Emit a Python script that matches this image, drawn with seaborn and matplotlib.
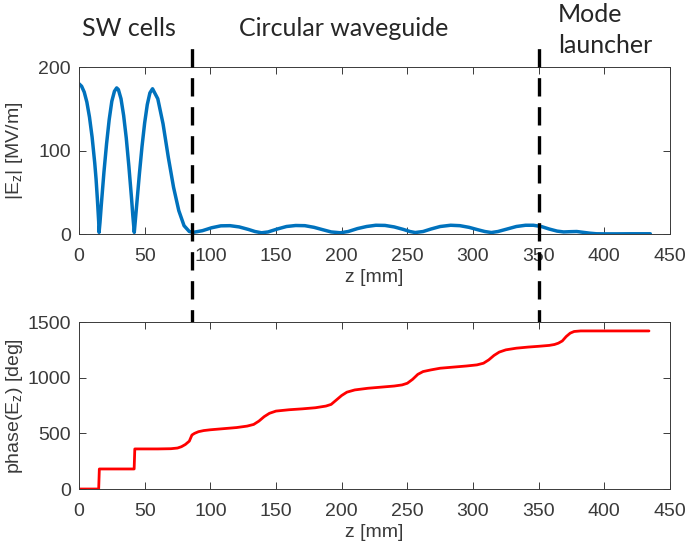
import seaborn as sns
import matplotlib.pyplot as plt

# |Ez| along the structure
z_field = [0, 2, 4, 6, 8, 10, 12, 13, 14, 15, 15.3,
           16, 17, 19, 21, 23, 25, 27, 28.7, 30, 32, 34, 36, 38, 40, 41, 42.1,
           43, 44, 46, 48, 50, 52, 54, 56, 60, 64, 68, 72, 76, 80, 84, 87,
           94, 101, 108, 115, 122, 129, 134, 139, 144, 151, 158, 165, 172, 179,
           186, 192, 199, 205, 212, 219, 226, 233, 240, 247, 252, 256, 262, 268,
           275, 283, 290, 297, 304, 309, 314, 319, 326, 333, 340, 346, 352, 358,
           364, 369, 374, 379, 384, 389, 394, 400, 410, 420, 435]
ez_abs = [180, 177, 170, 158, 140, 116, 85, 66, 42, 15, 2,
          14, 35, 74, 108, 137, 159, 171, 175, 173, 162, 142, 115, 81, 43, 22, 2,
          18, 36, 72, 105, 133, 155, 169, 174, 162, 132, 92, 56, 28, 10, 3, 2,
          4, 7.5, 9.8, 10, 8.5, 5.5, 3, 1.5, 2.5, 6, 9, 10.2, 10, 8,
          5, 2.5, 1.5, 3, 6.5, 9, 10.5, 10.3, 8.5, 5.5, 3, 1.8, 3, 6,
          9, 10.5, 10, 8, 5, 3, 1.8, 3, 6, 9, 10.5, 10.5, 9, 6,
          3.5, 2.5, 2.8, 3, 2, 1, 0.3, 0.2, 0.2, 0.3, 0.3]

# phase of Ez
z_phase = [0, 15, 15.5, 42, 42.5, 60, 70, 75, 78, 81, 84, 86, 88, 91, 95,
           100, 110, 120, 128, 133, 137, 141, 145, 150, 160, 170, 180, 188,
           192, 196, 200, 204, 210, 220, 230, 240, 246, 250, 254, 258, 262,
           268, 275, 285, 295, 303, 308, 312, 316, 320, 325, 333, 342, 350,
           358, 362, 365, 368, 371, 374, 377, 382, 400, 420, 434]
ez_phase = [0, 0, 180, 180, 360, 360, 362, 368, 380, 400, 430, 485, 500, 515, 525,
            532, 542, 552, 565, 580, 610, 650, 680, 700, 712, 720, 730, 745,
            760, 800, 840, 870, 890, 905, 915, 925, 935, 950, 985, 1030, 1055,
            1070, 1085, 1095, 1105, 1115, 1130, 1160, 1200, 1230, 1250, 1265, 1275, 1282,
            1290, 1298, 1310, 1330, 1370, 1400, 1415, 1420, 1420, 1420, 1420]

section_z = [86, 350]
section_names = ["SW cells", "Circular waveguide", "Mode", "launcher"]

sns.set_style("ticks", {"xtick.direction": "in", "ytick.direction": "in"})
plt.rcParams['font.family'] = ['Liberation Sans', 'DejaVu Sans']
plt.rcParams['mathtext.default'] = 'regular'

fig = plt.figure(figsize=(6.85, 5.5), dpi=100)
ax1 = fig.add_axes([0.1153, 0.5745, 0.8628, 0.3036])
ax2 = fig.add_axes([0.1153, 0.1109, 0.8628, 0.3036])

sns.lineplot(x=z_field, y=ez_abs, ax=ax1, color='#0072BD', lw=2.5, estimator=None)
sns.lineplot(x=z_phase, y=ez_phase, ax=ax2, color='red', lw=2, estimator=None)

grey = '#3a3a3a'
ax1.set_ylim(0, 200)
ax1.set_yticks([0, 100, 200])
ax1.set_ylabel(r'|E$_z$| [MV/m]', fontsize=14, color=grey)
ax2.set_ylim(0, 1500)
ax2.set_yticks([0, 500, 1000, 1500])
ax2.set_ylabel(r'phase(E$_z$) [deg]', fontsize=14, color=grey)

for ax in [ax1, ax2]:
    ax.set_xlim(0, 450)
    ax.set_xticks(range(0, 451, 50))
    ax.set_xlabel('z [mm]', fontsize=14, color=grey, labelpad=3)
    ax.tick_params(top=True, right=True, labelsize=14, colors=grey,
                   length=5, width=0.7)
    ax.tick_params(axis='x', pad=10)
    ax.tick_params(axis='y', pad=6)
    ax.yaxis.set_label_coords(-0.092, 0.5)
    for sp in ax.spines.values():
        sp.set_visible(True)
        sp.set_color(grey)
        sp.set_linewidth(0.7)

# dashed separators running through both panels
for zd in section_z:
    ax1.axvline(zd, ymin=-1.431, ymax=1.114, clip_on=False, color='black',
                lw=2.4, linestyle=(0, (5.5, 3.2)), zorder=10)

fig.text(0.119, 0.9345, section_names[0], fontsize=18, family='Lato', va='baseline')
fig.text(0.349, 0.9345, section_names[1], fontsize=18, family='Lato', va='baseline')
fig.text(0.8146, 0.96, section_names[2], fontsize=18, family='Lato', va='baseline')
fig.text(0.8146, 0.9036, section_names[3], fontsize=18, family='Lato', va='baseline')

fig.savefig("out.png", dpi=100)
